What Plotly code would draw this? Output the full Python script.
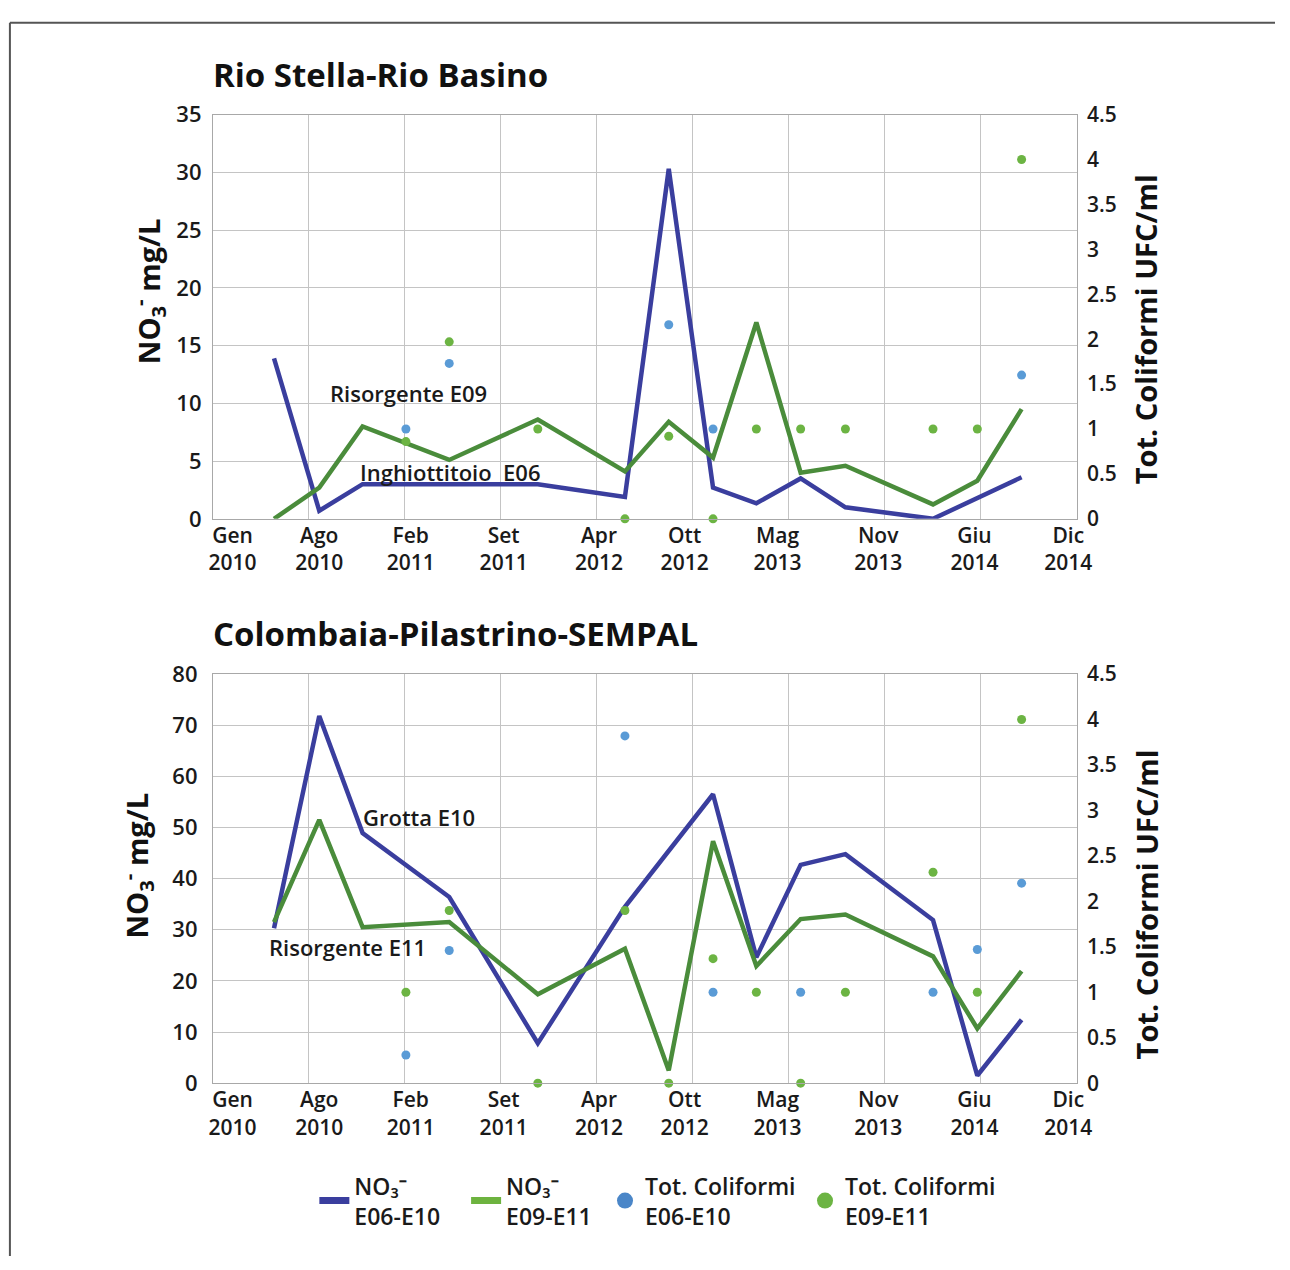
import plotly.graph_objects as go
import pandas as pd

# ---------------- data ----------------
sample_dates = ["2010-05-08", "2010-08-10", "2010-11-08", "2011-02-06", "2011-05-07",
                "2011-11-07", "2012-05-06", "2012-08-05", "2012-11-05", "2013-02-03",
                "2013-05-06", "2013-08-07", "2014-02-05", "2014-05-08", "2014-08-08"]

# Rio Stella - Rio Basino
no3_e06 = [13.9, 0.7, 3.0, None, None, 3.0, 1.9, 30.3, 2.7, 1.35, 3.5, 1.0, 0.0, None, 3.6]
no3_e09 = [0.0, 2.7, 8.0, None, 5.1, 8.6, 4.1, 8.4, 5.3, 17.0, 4.0, 4.6, 1.25, 3.3, 9.5]
coli_e06 = [None, None, None, 1.0, 1.73, None, None, 2.16, 1.0, None, None, None, None, None, 1.6]
coli_e09 = [None, None, None, 0.86, 1.97, 1.0, 0.0, 0.92, 0.0, 1.0, 1.0, 1.0, 1.0, 1.0, 4.0]

# Colombaia - Pilastrino - SEMPAL
no3_e10 = [30.3, 71.8, 48.9, None, 36.4, 7.8, 34.5, None, 56.5, 24.6, 42.7, 44.8, 31.9, 1.5, 12.4]
no3_e11 = [31.5, 51.5, 30.5, None, 31.5, 17.4, 26.3, 2.5, 47.3, 22.9, 32.1, 33.0, 24.8, 10.7, 21.9]
coli_e10 = [None, None, None, 0.31, 1.46, None, 3.82, None, 1.0, None, 1.0, None, 1.0, 1.47, 2.2]
coli_e11 = [None, None, None, 1.0, 1.9, 0.0, 1.9, 0.0, 1.37, 1.0, 0.0, 1.0, 2.32, 1.0, 4.0]

tick_labels = ["Gen<br>2010", "Ago<br>2010", "Feb<br>2011", "Set<br>2011", "Apr<br>2012",
               "Ott<br>2012", "Mag<br>2013", "Nov<br>2013", "Giu<br>2014", "Dic<br>2014"]
label_dates = ["2010-02-11", "2010-08-10", "2011-02-16", "2011-08-28", "2012-03-13",
               "2012-09-07", "2013-03-19", "2013-10-14", "2014-05-02", "2014-11-13"]

titles = ["Rio Stella-Rio Basino", "Colombaia-Pilastrino-SEMPAL"]
station_labels_top = ["Risorgente E09", "Inghiottitoio  E06"]
station_labels_bot = ["Grotta E10", "Risorgente E11"]
no3_title = "NO<sub>3</sub><sup>-</sup> mg/L"
coli_title = "Tot. Coliformi UFC/ml"
legend_names = ["NO\u2083\u207b<br>E06-E10", "NO\u2083\u207b<br>E09-E11",
                "Tot. Coliformi<br>E06-E10", "Tot. Coliformi<br>E09-E11"]

# ---------------- style ----------------
W, H = 1290, 1270
BLUE_L = "#3a3e9e"
GREEN_L = "#4a8c3b"
BLUE_D = "#5a9bd6"
GREEN_D = "#6cb443"
GRID = "#c4c4c4"
AX = "#a8a8a8"
FONT = "Open Sans"
x_start, x_end = "2010-01-01", "2014-12-01"
grid_dates = [d.strftime("%Y-%m-%d") for d in pd.date_range(x_start, x_end, periods=10)]

def px_x(p):
    return p / W

def px_y(p):
    return 1 - p / H

fig = go.Figure()

def add_panel(xa, ya, ya2, blue, green, cblue, cgreen):
    fig.add_trace(go.Scatter(x=sample_dates, y=blue, mode="lines", connectgaps=True,
                             line=dict(color=BLUE_L, width=4.5), xaxis=xa, yaxis=ya,
                             name=legend_names[0], showlegend=False))
    fig.add_trace(go.Scatter(x=sample_dates, y=green, mode="lines", connectgaps=True,
                             line=dict(color=GREEN_L, width=4.5), xaxis=xa, yaxis=ya,
                             name=legend_names[1], showlegend=False))
    fig.add_trace(go.Scatter(x=sample_dates, y=cblue, mode="markers",
                             marker=dict(color=BLUE_D, size=9), xaxis=xa, yaxis=ya2,
                             name=legend_names[2], showlegend=False, cliponaxis=False))
    fig.add_trace(go.Scatter(x=sample_dates, y=cgreen, mode="markers",
                             marker=dict(color=GREEN_D, size=9), xaxis=xa, yaxis=ya2,
                             name=legend_names[3], showlegend=False, cliponaxis=False))

add_panel("x", "y", "y2", no3_e06, no3_e09, coli_e06, coli_e09)
add_panel("x2", "y3", "y4", no3_e10, no3_e11, coli_e10, coli_e11)

# legend keys (one legend box per entry so each sits where the reference puts it)
legend_ids = ["legend", "legend2", "legend3", "legend4"]
key_styles = [dict(mode="lines", line=dict(color=BLUE_L, width=7)),
              dict(mode="lines", line=dict(color="#6db33f", width=7)),
              dict(mode="markers", marker=dict(color="#4a86c8", size=16)),
              dict(mode="markers", marker=dict(color=GREEN_D, size=16))]
for name, lid, st in zip(legend_names, legend_ids, key_styles):
    fig.add_trace(go.Scatter(x=[None], y=[None], name=name, legend=lid, showlegend=True,
                             xaxis="x2", yaxis="y3", **st))

tickfont = dict(family=FONT, size=21, color="#1a1a1a", weight=600)
titlefont = dict(family=FONT, size=29, color="#111111", weight="bold")

def xaxis_cfg(anchor):
    return dict(domain=[px_x(212), px_x(1089)], anchor=anchor, type="date",
                range=[x_start, x_end], tickmode="array", tickvals=label_dates,
                ticktext=tick_labels, showgrid=False, ticks="", tickfont=tickfont,
                showline=True, linecolor=AX, linewidth=1, mirror=True, zeroline=False,
                ticklabelstandoff=-2,
                minor=dict(tickmode="array", tickvals=grid_dates, showgrid=True,
                           gridcolor=GRID, gridwidth=1, ticks=""))

def yaxis_cfg(anchor, top, bot, rmax, dtick, lstand):
    return dict(domain=[px_y(bot), px_y(top)], anchor=anchor, range=[0, rmax], dtick=dtick,
                showgrid=True, gridcolor=GRID, gridwidth=1, zeroline=False, ticks="",
                tickfont=dict(family=FONT, size=22, color="#1a1a1a", weight=600),
                showline=True, linecolor=AX, linewidth=1, mirror=True,
                ticklabelstandoff=lstand)

def yaxis_right_cfg(over, anchor):
    return dict(overlaying=over, side="right", anchor=anchor, range=[0, 4.5], dtick=0.5,
                showgrid=False, zeroline=False, ticks="",
                tickfont=dict(family=FONT, size=21, color="#1a1a1a", weight=600),
                ticklabelstandoff=9)

def legend_cfg(text_left):
    return dict(orientation="h", x=px_x(text_left - 42), y=px_y(1176), xanchor="left",
                yanchor="top", font=dict(family=FONT, size=23, color="#1a1a1a", weight=600),
                valign="middle", itemsizing="trace", bgcolor="rgba(0,0,0,0)")

fig.update_layout(
    width=W, height=H, margin=dict(l=0, r=0, t=0, b=0),
    paper_bgcolor="white", plot_bgcolor="white",
    xaxis=xaxis_cfg("y"),
    yaxis=yaxis_cfg("x", 101, 515, 35, 5, 6),
    yaxis2=yaxis_right_cfg("y", "x"),
    xaxis2=xaxis_cfg("y3"),
    yaxis3=yaxis_cfg("x2", 674, 1093, 80, 10, 10),
    yaxis4=yaxis_right_cfg("y3", "x2"),
    legend=legend_cfg(357),
    legend2=legend_cfg(511),
    legend3=legend_cfg(652),
    legend4=legend_cfg(855),
    showlegend=True,
)

annos = [
    dict(text=titles[0], x=px_x(210), y=px_y(60), xanchor="left",
         font=dict(family=FONT, size=33, color="#111111", weight="bold")),
    dict(text=titles[1], x=px_x(210), y=px_y(632), xanchor="left",
         font=dict(family=FONT, size=33, color="#111111", weight="bold")),
    dict(text=no3_title, x=px_x(147), y=px_y(282), textangle=-90, font=titlefont),
    dict(text=coli_title, x=px_x(1158), y=px_y(321), textangle=-90, font=titlefont),
    dict(text=no3_title, x=px_x(135), y=px_y(870), textangle=-90, font=titlefont),
    dict(text=coli_title, x=px_x(1160), y=px_y(910), textangle=-90, font=titlefont),
    dict(text=station_labels_top[0], x=px_x(411), y=px_y(386)),
    dict(text=station_labels_top[1], x=px_x(453), y=px_y(467)),
    dict(text=station_labels_bot[0], x=px_x(421), y=px_y(820)),
    dict(text=station_labels_bot[1], x=px_x(349), y=px_y(954)),
]
for a in annos:
    a.setdefault("xanchor", "center")
    a.setdefault("yanchor", "middle")
    a.setdefault("font", dict(family=FONT, size=22, color="#1a1a1a", weight=600))
    fig.add_annotation(xref="paper", yref="paper", showarrow=False, **a)

# outer frame (left and top edges)
fig.add_shape(type="line", xref="paper", yref="paper", x0=px_x(6), x1=px_x(6), y0=0, y1=px_y(7),
              line=dict(color="#555555", width=2))
fig.add_shape(type="line", xref="paper", yref="paper", x0=px_x(6), x1=1, y0=px_y(7), y1=px_y(7),
              line=dict(color="#555555", width=2))

fig.write_html("out.html",
               post_script="document.body.style.margin='0';"
                           "document.documentElement.style.overflow='hidden';")
